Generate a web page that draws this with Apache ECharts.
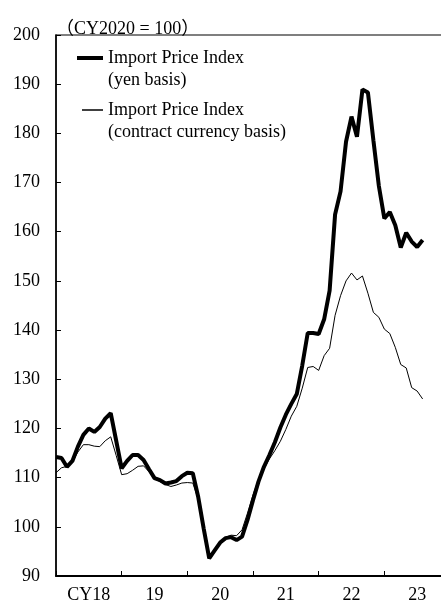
<!DOCTYPE html>
<html>
<head>
<meta charset="utf-8">
<script src="https://cdn.jsdelivr.net/npm/echarts@6/dist/echarts.min.js"></script>
<style>
html,body{margin:0;padding:0;background:#fff;}
#chart{width:441px;height:604px;}
</style>
</head>
<body>
<div id="chart"></div>
<script>
// Months indexed from Jan 2018 (0) onward
var yearLabels = ['CY18', '19', '20', '21', '22', '23'];
var yTicks = [90, 100, 110, 120, 130, 140, 150, 160, 170, 180, 190, 200];
var yenBasis = [
  114.2, 114.0, 112.2, 113.4, 116.3, 118.7, 120.0, 119.3, 120.3, 122.0, 123.1, 117.5,
  111.9, 113.4, 114.6, 114.6, 113.6, 111.7, 109.9, 109.5, 108.8, 109.0, 109.3, 110.3,
  111.0, 110.9, 106.0, 99.6, 93.6, 95.2, 96.8, 97.7, 97.9, 97.3, 98.0, 101.4,
  105.4, 109.2, 112.2, 114.6, 117.2, 120.2, 122.8, 125.0, 127.0, 132.8, 139.4, 139.4,
  139.2, 142.2, 148.0, 163.5, 168.2, 178.3, 183.4, 179.3, 188.9, 188.3, 178.6, 169.3,
  162.7, 164.0, 161.3, 156.8, 159.8, 158.0, 156.9, 158.3
];
var contractBasis = [
  111.0, 112.0, 112.3, 113.2, 115.2, 116.7, 116.7, 116.4, 116.3, 117.5, 118.3, 114.5,
  110.6, 110.8, 111.5, 112.3, 112.4, 111.2, 109.8, 109.2, 108.6, 108.2, 108.5, 108.9,
  109.0, 108.9, 105.6, 99.6, 93.8, 94.9, 97.0, 97.9, 98.3, 98.2, 99.4, 102.8,
  106.5, 109.6, 111.8, 113.8, 115.5, 117.4, 119.8, 122.5, 124.5, 128.2, 132.4, 132.6,
  131.8, 134.8, 136.3, 143.0, 147.0, 150.0, 151.6, 150.2, 151.0, 147.5, 143.6, 142.6,
  140.2, 139.3, 136.5, 133.0, 132.3, 128.3, 127.6, 126.0
];
var unitText = '（CY2020 = 100）';
var nameYen = 'Import Price Index\n(yen basis)';
var nameContract = 'Import Price Index\n(contract currency basis)';

function toPairs(arr) { return arr.map(function (v, i) { return [i, v]; }); }
// leading empty line keeps the legend icon level with the first text line
function legendFmt(name) { return '\n' + name; }

var serif = '"Liberation Serif", "Times New Roman", "Noto Sans CJK JP", serif';
var chart = echarts.init(document.getElementById('chart'), null, {renderer: 'canvas'});

chart.setOption({
  animation: false,
  backgroundColor: '#fff',
  title: {
    text: unitText, left: 51, top: 15,
    textStyle: {fontFamily: serif, fontSize: 18, fontWeight: 'normal', color: '#000'}
  },
  legend: [
    {
      data: [nameYen], left: 77, top: 25, padding: 0, itemWidth: 26, itemHeight: 4,
      icon: 'rect', selectedMode: false, formatter: legendFmt,
      itemStyle: {color: '#000', borderWidth: 0},
      textStyle: {fontFamily: serif, fontSize: 18, color: '#000', lineHeight: 22}
    },
    {
      data: [nameContract], left: 82, top: 77, padding: 0, itemWidth: 21, itemHeight: 1.5,
      icon: 'rect', selectedMode: false, formatter: legendFmt,
      itemStyle: {color: '#000', borderWidth: 0},
      textStyle: {fontFamily: serif, fontSize: 18, color: '#000', lineHeight: 22}
    }
  ],
  grid: {
    left: 56, top: 35, width: 394, height: 541,
    outerBoundsMode: 'none', containLabel: false,
    show: true, borderColor: '#000', borderWidth: 1.2, backgroundColor: 'transparent'
  },
  xAxis: [
    {
      type: 'value', min: 0, max: 72, interval: 12,
      axisLine: {show: true, onZero: false, lineStyle: {color: '#000', width: 2}},
      axisTick: {show: true, inside: true, length: 5, lineStyle: {color: '#000', width: 1}},
      axisLabel: {show: false},
      splitLine: {show: false}
    },
    {
      type: 'category', data: yearLabels, boundaryGap: true, position: 'bottom',
      axisLine: {show: false}, axisTick: {show: false},
      axisLabel: {fontFamily: serif, fontSize: 18, color: '#000', margin: 10},
      splitLine: {show: false}
    }
  ],
  yAxis: {
    type: 'value', min: yTicks[0], max: yTicks[yTicks.length - 1], interval: 10,
    axisLine: {show: true, lineStyle: {color: '#000', width: 1.5}},
    axisTick: {show: true, inside: true, length: 5, lineStyle: {color: '#000', width: 1}},
    axisLabel: {fontFamily: serif, fontSize: 18, color: '#000', margin: 16},
    splitLine: {show: false}
  },
  series: [
    {
      name: nameYen, type: 'line', xAxisIndex: 0, data: toPairs(yenBasis),
      symbol: 'none', lineStyle: {color: '#000', width: 4}, itemStyle: {color: '#000'}, z: 3
    },
    {
      name: nameContract, type: 'line', xAxisIndex: 0, data: toPairs(contractBasis),
      symbol: 'none', lineStyle: {color: '#000', width: 1}, itemStyle: {color: '#000'}, z: 2
    }
  ]
});
</script>
</body>
</html>
